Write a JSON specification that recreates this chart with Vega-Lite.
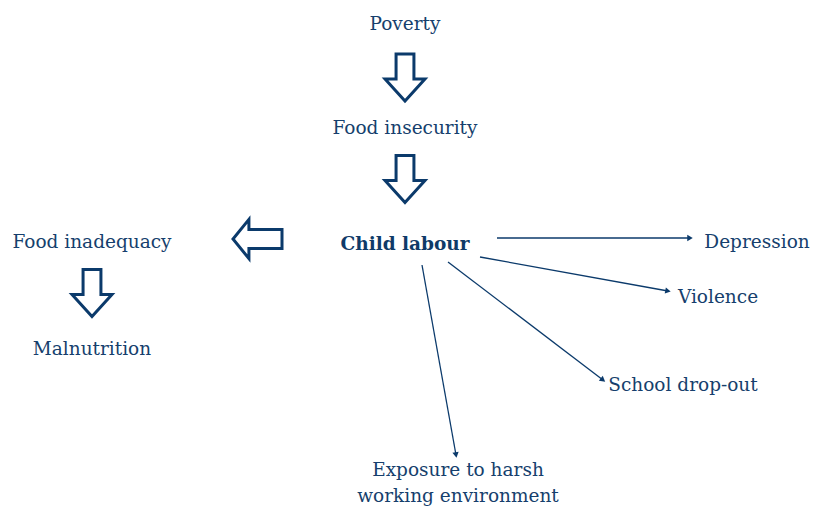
{
  "$schema": "https://vega.github.io/schema/vega-lite/v6.json",
  "width": 813,
  "height": 506,
  "padding": 0,
  "autosize": {"type": "fit", "contains": "padding"},
  "config": {"view": {"stroke": null}},
  "datasets": {
    "labels": [
      {"label": "Poverty", "x": 405, "y": 23.5},
      {"label": "Food insecurity", "x": 405, "y": 127.5},
      {"label": "Food inadequacy", "x": 92, "y": 241.5},
      {"label": "Malnutrition", "x": 92, "y": 348.5},
      {"label": "Depression", "x": 757, "y": 241.5},
      {"label": "Violence", "x": 718, "y": 297},
      {"label": "School drop-out", "x": 683, "y": 384.5},
      {"label": "Exposure to harsh|working environment", "x": 458, "y": 470}
    ],
    "center": [
      {"label": "Child labour", "x": 405, "y": 243.5}
    ],
    "bigDown": [
      {"step": "Poverty → Food insecurity", "x": 405, "y": 77.5},
      {"step": "Food insecurity → Child labour", "x": 405, "y": 179},
      {"step": "Food inadequacy → Malnutrition", "x": 92, "y": 293}
    ],
    "bigLeft": [
      {"step": "Child labour → Food inadequacy", "x": 257.5, "y": 239}
    ],
    "links": [
      {"to": "Depression", "x1": 497, "y1": 238, "x2": 690, "y2": 238},
      {"to": "Violence", "x1": 480, "y1": 257, "x2": 668, "y2": 291},
      {"to": "School drop-out", "x1": 448, "y1": 262, "x2": 603, "y2": 380},
      {"to": "Exposure to harsh working environment", "x1": 422, "y1": 265, "x2": 456, "y2": 455}
    ]
  },
  "layer": [
    {
      "data": {"name": "bigDown"},
      "mark": {
        "type": "point",
        "filled": false,
        "fill": "white",
        "fillOpacity": 1,
        "stroke": "#0b3a6b",
        "strokeWidth": 3,
        "strokeJoin": "miter",
        "opacity": 1,
        "size": 2209,
        "shape": "M-0.38,-1L0.38,-1L0.38,0.06L0.85,0.06L0,1L-0.85,0.06L-0.38,0.06Z"
      },
      "encoding": {
        "x": {"field": "x", "type": "quantitative", "scale": {"domain": [0, 813], "nice": false, "zero": false}, "axis": null},
        "y": {"field": "y", "type": "quantitative", "scale": {"domain": [0, 506], "nice": false, "zero": false, "reverse": true}, "axis": null}
      }
    },
    {
      "data": {"name": "bigLeft"},
      "mark": {
        "type": "point",
        "filled": false,
        "fill": "white",
        "fillOpacity": 1,
        "stroke": "#0b3a6b",
        "strokeWidth": 3,
        "strokeJoin": "miter",
        "opacity": 1,
        "size": 2401,
        "shape": "M1,-0.39L1,0.39L-0.35,0.39L-0.35,0.8L-1,0L-0.35,-0.8L-0.35,-0.39Z"
      },
      "encoding": {
        "x": {"field": "x", "type": "quantitative"},
        "y": {"field": "y", "type": "quantitative"}
      }
    },
    {
      "data": {"name": "links"},
      "mark": {"type": "rule", "color": "#0b3a6b", "strokeWidth": 1.3},
      "encoding": {
        "x": {"field": "x1", "type": "quantitative"},
        "y": {"field": "y1", "type": "quantitative"},
        "x2": {"field": "x2"},
        "y2": {"field": "y2"}
      }
    },
    {
      "data": {"name": "links"},
      "transform": [
        {"calculate": "atan2(datum.y2 - datum.y1, datum.x2 - datum.x1) * 180 / PI + 90", "as": "dir"}
      ],
      "mark": {"type": "point", "shape": "triangle-up", "filled": true, "color": "#0b3a6b", "opacity": 1, "size": 40},
      "encoding": {
        "x": {"field": "x2", "type": "quantitative"},
        "y": {"field": "y2", "type": "quantitative"},
        "angle": {"field": "dir", "type": "quantitative", "scale": null}
      }
    },
    {
      "data": {"name": "labels"},
      "transform": [{"calculate": "split(datum.label, '|')", "as": "lines"}],
      "mark": {"type": "text", "font": "DejaVu Serif", "fontSize": 18.5, "color": "#163f6d", "align": "center", "baseline": "middle", "lineHeight": 26},
      "encoding": {
        "x": {"field": "x", "type": "quantitative"},
        "y": {"field": "y", "type": "quantitative"},
        "text": {"field": "lines"}
      }
    },
    {
      "data": {"name": "center"},
      "mark": {"type": "text", "font": "DejaVu Serif", "fontSize": 18.5, "fontWeight": "bold", "color": "#0f3a68", "align": "center", "baseline": "middle"},
      "encoding": {
        "x": {"field": "x", "type": "quantitative"},
        "y": {"field": "y", "type": "quantitative"},
        "text": {"field": "label"}
      }
    }
  ]
}
